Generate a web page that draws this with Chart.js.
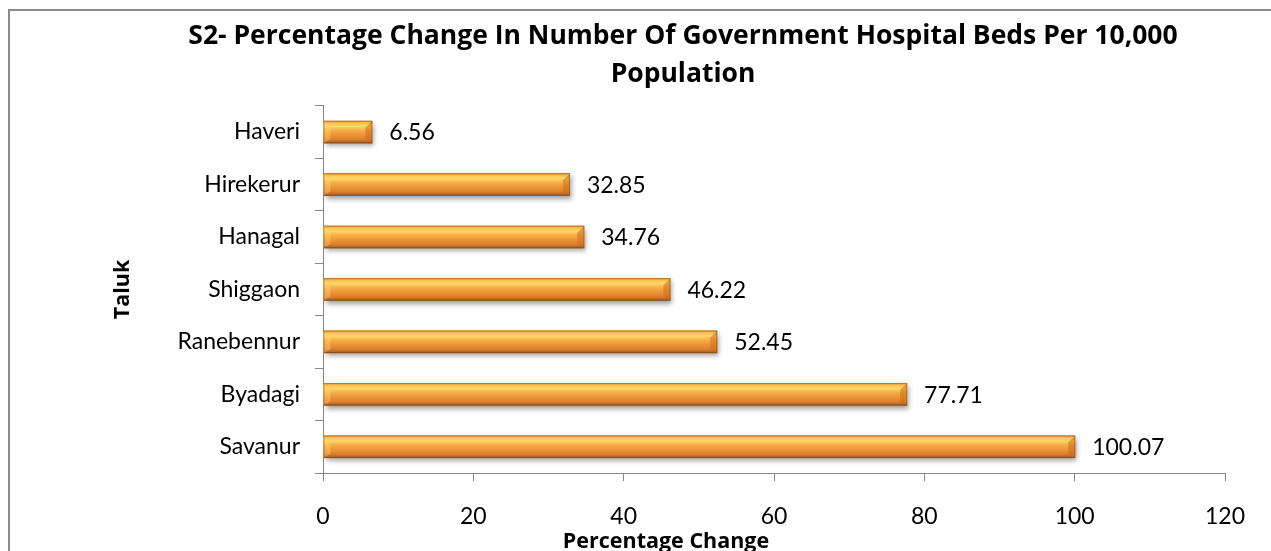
<!DOCTYPE html>
<html>
<head>
<meta charset="utf-8">
<script src="https://cdn.jsdelivr.net/npm/chart.js@4.4.1/dist/chart.umd.min.js"></script>
<style>
  html, body { margin: 0; padding: 0; background: #ffffff; }
  #wrap { width: 1271px; height: 551px; }
</style>
</head>
<body>
<div id="wrap"><canvas id="c" width="1271" height="551"></canvas></div>
<script>
// Taluks, top to bottom, and their percentage change
const taluks = ['Haveri', 'Hirekerur', 'Hanagal', 'Shiggaon', 'Ranebennur', 'Byadagi', 'Savanur'];
const percentChange = [6.56, 32.85, 34.76, 46.22, 52.45, 77.71, 100.07];
const titleLines = ['S2- Percentage Change In Number Of Government Hospital Beds Per 10,000', 'Population'];
const xAxisTitle = 'Percentage Change';
const yAxisTitle = 'Taluk';

const FONT = 'Lato, "Open Sans", sans-serif';
const BOLD_FONT = '"Open Sans", Lato, sans-serif';
const AXIS_GRAY = '#868686';

// Outer frame of the chart
const framePlugin = {
  id: 'frame',
  beforeDraw(chart) {
    const ctx = chart.ctx;
    ctx.save();
    ctx.fillStyle = '#ffffff';
    ctx.fillRect(0, 0, chart.width, chart.height);
    ctx.strokeStyle = '#8c8c8c';
    ctx.lineWidth = 2;
    ctx.strokeRect(9, 10, chart.width + 40, chart.height + 40);
    ctx.restore();
  }
};

// Drop shadow under the bars, then a glossy orange face on top of each bar
const barStylePlugin = {
  id: 'barStyle',
  beforeDatasetsDraw(chart) {
    const ctx = chart.ctx;
    ctx.save();
    ctx.shadowColor = 'rgba(0,0,0,0.38)';
    ctx.shadowBlur = 5;
    ctx.shadowOffsetX = 2;
    ctx.shadowOffsetY = 3;
  },
  afterDatasetsDraw(chart) {
    const ctx = chart.ctx;
    ctx.restore();
    const meta = chart.getDatasetMeta(0);
    meta.data.forEach((el) => {
      const p = el.getProps(['x', 'y', 'base', 'height'], true);
      const left = Math.min(p.base, p.x);
      const right = Math.max(p.base, p.x);
      const top = p.y - p.height / 2;
      const bottom = p.y + p.height / 2;
      const h = bottom - top;
      const g = ctx.createLinearGradient(0, top, 0, bottom);
      g.addColorStop(0.00, '#ea9534');
      g.addColorStop(0.12, '#fac658');
      g.addColorStop(0.25, '#fdd765');
      g.addColorStop(0.40, '#f7b149');
      g.addColorStop(0.60, '#ee9739');
      g.addColorStop(0.82, '#df802e');
      g.addColorStop(0.93, '#b8692a');
      g.addColorStop(1.00, '#7e4a1e');
      ctx.save();
      ctx.fillStyle = g;
      ctx.fillRect(left, top, right - left, h);
      // bevelled ends
      const b = Math.min(7, (right - left) / 3);
      ctx.fillStyle = 'rgba(200,110,30,0.55)';
      ctx.beginPath();
      ctx.moveTo(right, top);
      ctx.lineTo(right, bottom);
      ctx.lineTo(right - b, bottom - b * 0.6);
      ctx.lineTo(right - b, top + b);
      ctx.closePath();
      ctx.fill();
      ctx.fillStyle = 'rgba(255,220,130,0.35)';
      ctx.beginPath();
      ctx.moveTo(left, top);
      ctx.lineTo(left + b, top + b);
      ctx.lineTo(left + b, bottom - b * 0.6);
      ctx.lineTo(left, bottom);
      ctx.closePath();
      ctx.fill();
      ctx.strokeStyle = 'rgba(140,70,20,0.45)';
      ctx.lineWidth = 1;
      ctx.strokeRect(left + 0.5, top + 0.5, right - left - 1, h - 1);
      ctx.restore();
    });
  }
};

// Value label at the end of each bar
const valueLabelPlugin = {
  id: 'valueLabels',
  afterDraw(chart) {
    const ctx = chart.ctx;
    const meta = chart.getDatasetMeta(0);
    const data = chart.data.datasets[0].data;
    ctx.save();
    ctx.font = '23px ' + FONT;
    ctx.fillStyle = '#000000';
    ctx.textAlign = 'left';
    ctx.textBaseline = 'middle';
    meta.data.forEach((el, i) => {
      const p = el.getProps(['x', 'y'], true);
      ctx.fillText(data[i].toFixed(2), p.x + 17, p.y + 1);
    });
    ctx.restore();
  }
};

// Horizontal axis title
const xTitlePlugin = {
  id: 'xTitle',
  afterDraw(chart) {
    const ctx = chart.ctx;
    ctx.save();
    ctx.font = 'bold 21.5px ' + BOLD_FONT;
    ctx.fillStyle = '#000000';
    ctx.textAlign = 'center';
    ctx.textBaseline = 'alphabetic';
    ctx.fillText(xAxisTitle, 666, 548);
    ctx.restore();
  }
};

new Chart(document.getElementById('c'), {
  type: 'bar',
  data: {
    labels: taluks,
    datasets: [{
      data: percentChange,
      backgroundColor: '#ee9a3a',
      borderWidth: 0,
      categoryPercentage: 1.0,
      barPercentage: 0.43
    }]
  },
  plugins: [framePlugin, barStylePlugin, valueLabelPlugin, xTitlePlugin],
  options: {
    indexAxis: 'y',
    responsive: false,
    animation: false,
    devicePixelRatio: 1,
    layout: { padding: { left: 96, right: 1, top: 0, bottom: 0 } },
    plugins: {
      legend: { display: false },
      tooltip: { enabled: false },
      title: {
        display: true,
        text: titleLines,
        color: '#000000',
        font: { family: BOLD_FONT, size: 26.5, weight: 'bold', lineHeight: 1.45 },
        padding: { top: 17, bottom: 12 }
      }
    },
    scales: {
      x: {
        min: 0,
        max: 120,
        ticks: {
          stepSize: 20,
          color: '#000000',
          font: { family: FONT, size: 23 },
          padding: 22
        },
        grid: { drawOnChartArea: false, drawTicks: true, tickLength: 8, color: AXIS_GRAY },
        border: { color: AXIS_GRAY, width: 1 },
        afterFit(scale) {
          scale.height = 78;
          scale.paddingRight = 46;
        }
      },
      y: {
        ticks: {
          color: '#000000',
          font: { family: FONT, size: 23 },
          padding: 15
        },
        grid: { drawOnChartArea: false, drawTicks: true, tickLength: 8, color: AXIS_GRAY, offset: true },
        border: { color: AXIS_GRAY, width: 1 },
        title: {
          display: true,
          text: yAxisTitle,
          color: '#000000',
          font: { family: BOLD_FONT, size: 21.5, weight: 'bold' },
          padding: { top: 14, bottom: 0 }
        },
        afterFit(scale) { scale.width = 227; }
      }
    }
  }
});
</script>
</body>
</html>
